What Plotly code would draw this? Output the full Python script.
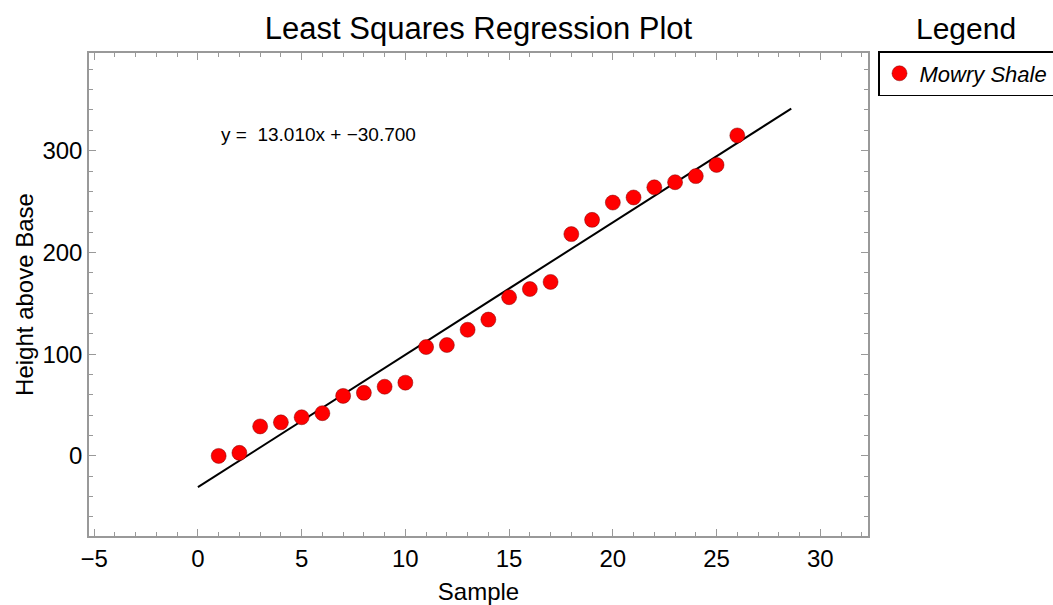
import plotly.graph_objects as go

sample = list(range(1, 27))
height = [0, 3, 29, 33, 38, 42, 59, 62, 68, 72, 107, 109, 124, 134, 156, 164,
          171, 218, 232, 249, 254, 264, 269, 275, 286, 315]
slope = 13.010
intercept = -30.700
line_x = [0, 28.6]
line_y = [slope * v + intercept for v in line_x]

FONT = "Liberation Sans, Arial, sans-serif"
frame = "#999999"

fig = go.Figure()
fig.add_trace(go.Scatter(x=line_x, y=line_y, mode="lines",
                         line=dict(color="black", width=2), showlegend=False,
                         hoverinfo="skip"))
fig.add_trace(go.Scatter(x=sample, y=height, mode="markers", name="Mowry Shale",
                         marker=dict(color="#ff0000", size=15,
                                     line=dict(color="rgba(120,0,0,0.6)", width=0.8))))

fig.add_annotation(x=1.0, y=316, xref="x", yref="y", xanchor="left", yanchor="middle",
                   text="y =  13.010x + \u221230.700", showarrow=False,
                   font=dict(family=FONT, size=19, color="black"))
fig.add_annotation(x=(966 - 89) / 779, y=(605 - 69 - 28) / 483, xref="paper", yref="paper",
                   showarrow=False, text="Legend", xanchor="center", yanchor="middle",
                   font=dict(family=FONT, size=30, color="black"))

axis_common = dict(showline=True, linecolor=frame, linewidth=1.5, mirror="ticks",
                   ticks="inside", ticklen=7, tickcolor=frame, tickwidth=1.2,
                   showgrid=False, zeroline=False, automargin=False,
                   tickfont=dict(family=FONT, size=24, color="black"))

fig.update_layout(
    width=1053, height=605,
    margin=dict(l=89, r=185, t=53, b=69),
    paper_bgcolor="white", plot_bgcolor="white",
    font=dict(family=FONT, color="black"),
    title=dict(text="Least Squares Regression Plot", x=0.5, xref="paper",
               y=1 - 28 / 605, yref="container", yanchor="middle", xanchor="center",
               automargin=False,
               font=dict(family=FONT, size=31, color="black")),
    xaxis=dict(range=[-5.25, 32.3], dtick=5, tick0=0,
               minor=dict(dtick=1, ticks="inside", ticklen=4, tickcolor=frame),
               title=dict(text="Sample", standoff=16, font=dict(family=FONT, size=24)),
               **axis_common),
    yaxis=dict(range=[-78.7, 396], dtick=100, tick0=0,
               minor=dict(dtick=20, ticks="inside", ticklen=4, tickcolor=frame),
               title=dict(text="Height above Base", standoff=2, font=dict(family=FONT, size=24)),
               ticklabelstandoff=0,
               **axis_common),
    legend=dict(xref="container", yref="container", x=878 / 1053, y=1 - 51 / 605,
                xanchor="left", yanchor="top", itemwidth=30,
                bordercolor="black", borderwidth=1.5, bgcolor="white",
                font=dict(family=FONT, size=22, color="black", style="italic")),
)
fig.write_html("out.html")
